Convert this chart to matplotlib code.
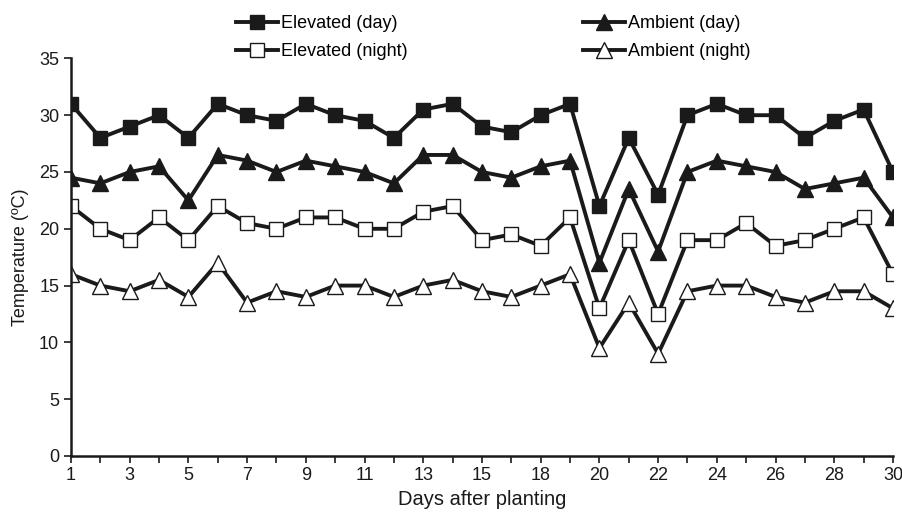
import matplotlib
matplotlib.use("Agg")
import matplotlib.pyplot as plt
import numpy as np

plt.rcParams['font.family'] = ['Liberation Sans', 'DejaVu Sans']

# Days shown on the x axis (day 16/17 has a single reading)
days = [1, 2, 3, 4, 5, 6, 7, 8, 9, 10, 11, 12, 13, 14, 15, 17,
        18, 19, 20, 21, 22, 23, 24, 25, 26, 27, 28, 29, 30]
day_labels = ["1", "", "3", "", "5", "", "7", "", "9", "", "11", "", "13", "",
              "15", "", "18", "", "20", "", "22", "", "24", "", "26", "", "28", "", "30"]

elevated_day = [31, 28, 29, 30, 28, 31, 30, 29.5, 31, 30, 29.5, 28, 30.5, 31,
                29, 28.5, 30, 31, 22, 28, 23, 30, 31, 30, 30, 28, 29.5, 30.5, 25]
ambient_day = [24.5, 24, 25, 25.5, 22.5, 26.5, 26, 25, 26, 25.5, 25, 24, 26.5, 26.5,
               25, 24.5, 25.5, 26, 17, 23.5, 18, 25, 26, 25.5, 25, 23.5, 24, 24.5, 21]
elevated_night = [22, 20, 19, 21, 19, 22, 20.5, 20, 21, 21, 20, 20, 21.5, 22,
                  19, 19.5, 18.5, 21, 13, 19, 12.5, 19, 19, 20.5, 18.5, 19, 20, 21, 16]
ambient_night = [16, 15, 14.5, 15.5, 14, 17, 13.5, 14.5, 14, 15, 15, 14, 15, 15.5,
                 14.5, 14, 15, 16, 9.5, 13.5, 9, 14.5, 15, 15, 14, 13.5, 14.5, 14.5, 13]

x = np.arange(len(days))

fig = plt.figure(figsize=(9.03, 5.15), dpi=100)
ax = fig.add_axes([0.0786, 0.1146, 0.9103, 0.772])

lw = 2.8
ms = 10
l1, = ax.plot(x, elevated_day, color="#1a1a1a", lw=lw, marker="s", ms=ms,
              mfc="#1a1a1a", mec="#1a1a1a", label="Elevated (day)", zorder=3)
l3, = ax.plot(x, ambient_day, color="#1a1a1a", lw=lw, marker="^", ms=ms + 1,
              mfc="#1a1a1a", mec="#1a1a1a", label="Ambient (day)", zorder=3)
l2, = ax.plot(x, elevated_night, color="#1a1a1a", lw=lw, marker="s", ms=ms,
              mfc="white", mec="#1a1a1a", mew=1.0, label="Elevated (night)", zorder=3)
l4, = ax.plot(x, ambient_night, color="#1a1a1a", lw=lw, marker="^", ms=ms + 1,
              mfc="white", mec="#1a1a1a", mew=1.0, label="Ambient (night)", zorder=3)

ax.set_xlim(0, len(days) - 1)
ax.set_ylim(0, 35)
ax.set_xticks(x)
ax.set_xticklabels(day_labels)
ax.set_yticks(np.arange(0, 36, 5))
ax.tick_params(axis="both", direction="out", length=5, width=1.2,
               labelsize=13, colors="#1a1a1a")
ax.tick_params(axis="x", pad=3)

for side in ["top", "right"]:
    ax.spines[side].set_visible(False)
for side in ["left", "bottom"]:
    ax.spines[side].set_linewidth(1.8)
    ax.spines[side].set_color("#1a1a1a")
ax.spines["left"].set_zorder(4)

ax.set_xlabel("Days after planting", fontsize=14.5, color="#1a1a1a", labelpad=4)
ax.set_ylabel("Temperature (ºC)", fontsize=13, color="#1a1a1a", labelpad=7)

ax.legend(handles=[l1, l2, l3, l4], ncol=2, frameon=False, fontsize=13,
          loc="center", bbox_to_anchor=(0.5465, 1 - 37.5 / 515),
          bbox_transform=fig.transFigure, handlelength=2.3, handletextpad=0.2,
          columnspacing=9.7, labelspacing=0.6, borderaxespad=0)

fig.savefig("out.png", dpi=100)
